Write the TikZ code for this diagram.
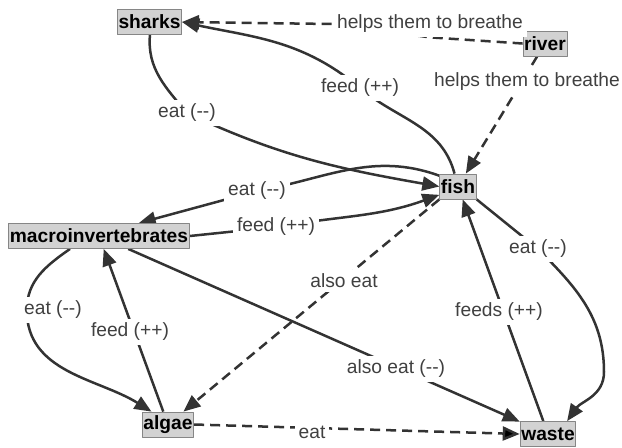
\documentclass[tikz,border=0pt]{standalone}
\usepackage{fontspec}
\setmainfont{Liberation Sans}
\usetikzlibrary{arrows.meta,backgrounds,calc}

\begin{document}
\begin{tikzpicture}[
        x = 0.5pt, y = 0.5pt,
        line join=round,
        concept/.style = {draw=gray!95, fill=gray!35, thin, inner xsep=0.6pt, inner ysep=0pt,
            minimum height=12.5pt, font=\fontsize{9.6}{11}\selectfont\bfseries},
        lbl/.style = {fill=white, inner sep=2pt, text=black!75, font=\fontsize{9.6}{11}\selectfont},
        link/.style = {draw=black!80, line width=1.25pt, -{Triangle[length=8.5pt,width=7pt]}},
        link2/.style = {link, dash pattern=on 5pt off 3pt}
    ]
        \useasboundingbox (0, 0) rectangle (622, -447);

        \node[concept] (sharks) at (149.5, -22) {sharks};
        \node[concept] (river) at (545, -43.5) {river};
        \node[concept] (fish) at (458, -186.5) {fish};
        \node[concept] (macro) at (99, -236) {macroinvertebrates};
        \node[concept] (algae) at (168, -424.5) {algae};
        \node[concept] (waste) at (548, -434) {waste};

        \node[lbl] (l1) at (430, -24) {helps them to breathe};
        \node[lbl] (l2) at (527, -82) {helps them to breathe};
        \node[lbl] (l3) at (360, -88) {feed (++)};
        \node[lbl] (l4) at (187, -113) {eat (-{}-)};
        \node[lbl] (l5) at (257, -191) {eat (-{}-)};
        \node[lbl] (l6) at (276, -227) {feed (++)};
        \node[lbl] (l7) at (344, -281) {also eat};
        \node[lbl] (l8) at (396, -369) {also eat (-{}-)};
        \node[lbl] (l9) at (312, -432) {eat};
        \node[lbl] (l10) at (53, -310) {eat (-{}-)};
        \node[lbl] (l11) at (130, -332) {feed (++)};
        \node[lbl] (l12) at (499, -312) {feeds (++)};
        \node[lbl] (l13) at (538, -249) {eat (-{}-)};

        \coordinate (bend) at (604, -372);

        \begin{scope}[on background layer]
        \draw[link2] (river.west) -- (l1.south) -- (l1.west) -- (sharks.east);
        \draw[link2] (river) -- (fish);
        \draw[link] (fish.105) to[out=105, in=-40] (l3.center) to[out=140, in=-12] (sharks.east);
        \draw[link] (sharks.-88) to[out=-95, in=130] (l4.center) to[out=-25, in=170] (fish.west);
        \draw[link] (fish.150) to[out=160, in=10] (l5.center) -- (macro.18);
        \draw[link] (macro.east) -- (l6.center) to[out=10, in=200] (fish.204);
        \draw[link2] (fish.south west) -- (algae.40);
        \draw[link] (macro.204) to[out=215, in=90] ($(l10.west)+(7,0)$) to[out=-90, in=148] (algae.142);
        \draw[link] (algae) -- (macro);
        \draw[link] (macro) -- (waste);
        \draw[link2, -{Triangle[length=8.5pt,width=7pt,fill=black]}] (algae.east) -- (waste.west);
        \draw[link] (waste) -- (fish);
        \draw[link] (fish.south east) -- (l13.center) to[out=-45, in=90] (bend) to[out=-90, in=55] (waste.34);
        \end{scope}

    \end{tikzpicture}
\end{document}
